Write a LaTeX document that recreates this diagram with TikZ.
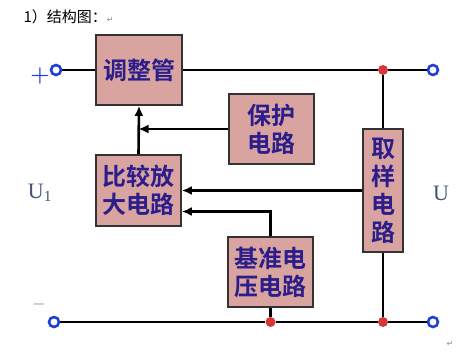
\documentclass[tikz,border=0pt]{standalone}
\usepackage{fontspec}
\usepackage{xcolor}
\usepackage{tikz}
\usetikzlibrary{arrows.meta, positioning, calc}
\newfontfamily\cjk{Noto Sans CJK SC}
\newfontfamily\cjkb{Noto Sans CJK SC Bold}
\newfontfamily\symfont{DejaVu Sans}
\newfontfamily\ufont{Liberation Serif}
\definecolor{boxfill}{HTML}{D9A3A0}
\definecolor{boxtext}{HTML}{2C1E8A}
\definecolor{termblue}{HTML}{1F3FD6}
\definecolor{dotred}{HTML}{D6383A}
\definecolor{labgray}{HTML}{46507A}

\begin{document}
\begin{tikzpicture}[
  x=1pt, y=-1pt,
  blk/.style   = {draw=black!80, line width=1.6pt, fill=boxfill, align=center,
                  text=boxtext, inner sep=0pt,
                  font=\cjkb\fontsize{24}{28}\selectfont},
  wire/.style  = {line width=2.6pt},
  arrow/.style = {wire, -{Latex[length=10pt,width=9pt]}},
  term/.style  = {circle, draw=termblue, line width=2.6pt, fill=white,
                  minimum size=10pt, inner sep=0pt},
  jn/.style    = {circle, fill=dotred, minimum size=10pt, inner sep=0pt},
  lab/.style   = {text=labgray, font=\ufont\fontsize{22}{22}\selectfont}
]
  \useasboundingbox (0,0) rectangle (476,352);

  % title
  \node[anchor=west, font=\cjk\fontsize{15}{15}\selectfont] (title) at (20,17)
    {1）结构图：{\symfont\color{black!45}\fontsize{8}{8}\selectfont ↵}};

  % blocks
  \node[blk, minimum width=86pt, minimum height=70pt] (tzg) at (139,70)    {调整管};
  \node[blk, minimum width=85pt, minimum height=70pt] (bh)  at (271.5,129) {保护\\电路};
  \node[blk, minimum width=85pt, minimum height=71pt] (bj)  at (138.5,190.5) {比较放\\大电路};
  \node[blk, minimum width=85pt, minimum height=70pt] (jz)  at (270.5,272) {基准电\\压电路};
  \node[blk, minimum width=40pt, minimum height=123pt] (qy) at (383,190.5) {取\\样\\电\\路};

  % terminals and junctions
  \node[term] (inP)  at (56,70)  {};
  \node[term] (outP) at (433,70) {};
  \node[term] (inN)  at (54,322) {};
  \node[term] (outN) at (433,322) {};
  \node[jn] (dT)  at (383,70)    {};
  \node[jn] (dB1) at (270.5,322) {};
  \node[jn] (dB2) at (383,322)   {};

  % labels
  \node[text=termblue, font=\bfseries\fontsize{22}{22}\selectfont] (plus) at (40,76) {+};
  \node[text=labgray, font=\fontsize{16}{16}\selectfont] (minus) at (39,306) {−};
  \node[lab] (uin)  at (40,193) {U\textsubscript{1}};
  \node[lab] (uout) at (441,193) {U};
  \node[text=black!45, font=\symfont\fontsize{8}{8}\selectfont] (ret) at (450,344) {↵};

  % main lines
  \draw[wire] (inP) -- (tzg.west);
  \draw[wire] (tzg.east) -- (dT) -- (outP);
  \draw[wire] (dT) -- (qy.north);
  \draw[wire] (inN) -- (dB1) -- (dB2) -- (outN);
  \draw[wire] (jz.south) -- (dB1);
  \draw[wire] (qy.south) -- (dB2);

  % feedback paths
  \draw[arrow] (bj.north) -- (tzg.south);
  \draw[arrow] (bh.west) -- (bh.west -| bj.north);
  \draw[arrow] (qy.west) -- (qy.west -| bj.east);
  \draw[arrow] (jz.north) |- ($(bj.east)+(0,21)$);
\end{tikzpicture}
\end{document}
